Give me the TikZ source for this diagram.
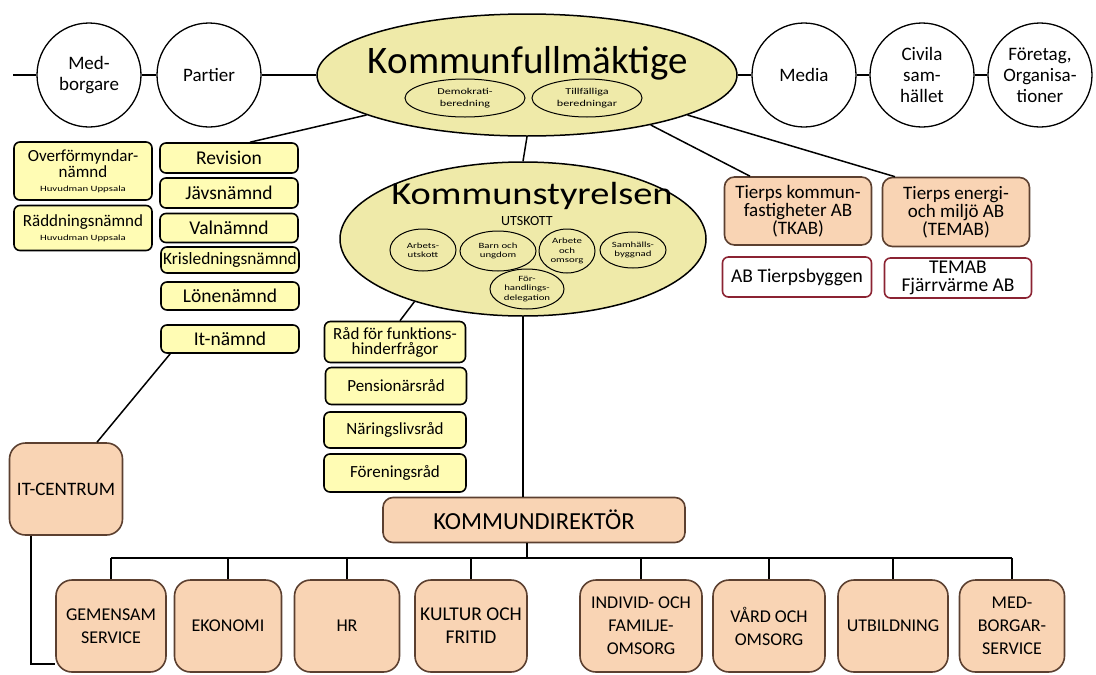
\documentclass[tikz,border=0pt]{standalone}
\usepackage{fontspec}
\setmainfont{Carlito}
\newfontfamily\widefont[FakeStretch=1.35]{Carlito}
\newfontfamily\ksfont[FakeStretch=1.2]{Carlito}
\usetikzlibrary{shapes.geometric,calc}
\definecolor{ovalfill}{HTML}{EFEAA9}
\definecolor{boxyellow}{HTML}{FFFCB4}
\definecolor{peach}{HTML}{F9D4B4}
\definecolor{peachline}{HTML}{5C4030}
\definecolor{abline}{HTML}{8B2332}

\begin{document}
\begin{tikzpicture}[x=1pt,y=-1pt,
    party/.style={circle,draw,line width=1.3pt,fill=white,minimum size=104pt,inner sep=0pt,align=center,font=\fontsize{19}{21}\selectfont},
    bigoval/.style={ellipse,draw,line width=1.5pt,fill=ovalfill,inner sep=0pt},
    smalloval/.style={ellipse,draw,line width=1pt,fill=ovalfill,inner sep=0pt,align=center,font=\widefont\fontsize{8}{9.5}\selectfont},
    yellowbox/.style={rectangle,rounded corners=6pt,draw,line width=1.6pt,fill=boxyellow,minimum width=138pt,inner sep=0pt,align=center,font=\fontsize{19.5}{16}\selectfont},
    peachbox/.style={rectangle,rounded corners=10pt,draw=peachline,line width=1.6pt,fill=peach,inner sep=0pt,align=center,font=\fontsize{19}{18}\selectfont},
    abbox/.style={rectangle,rounded corners=6pt,draw=abline,line width=1.6pt,fill=white,minimum height=40pt,inner sep=0pt,align=center,font=\fontsize{19.5}{18}\selectfont},
    unit/.style={peachbox,minimum width=110pt,minimum height=92pt,rounded corners=16pt,font=\fontsize{18}{23}\selectfont},
    link/.style={line width=1.5pt}]
\useasboundingbox (0,0) rectangle (1096,675);

\node[party] (med) at (89,75) {Med-\\borgare};
\node[party] (par) at (209,75) {Partier};
\node[party] (media) at (804,75) {Media};
\node[party] (civ) at (922,75) {Civila\\sam-\\hället};
\node[party] (ftg) at (1040,75) {Företag,\\Organisa-\\tioner};
\node[bigoval,minimum width=420pt,minimum height=122pt] (kf) at (527,75) {};
\node[anchor=base,font=\fontsize{39}{39}\selectfont] (kftitle) at (528,73) {Kommunfullmäktige};
\node[smalloval,minimum width=120pt,minimum height=38pt,font=\widefont\fontsize{9}{12}\selectfont] (demo) at (465,98) {Demokrati-\\beredning};
\node[smalloval,minimum width=110pt,minimum height=38pt,font=\widefont\fontsize{9}{12}\selectfont] (tillf) at (587,98) {Tillfälliga\\beredningar};
\coordinate (lstart) at (13,75);
\draw[link] (lstart) -- (med) -- (par) -- (kf) -- (media) -- (civ) -- (ftg);

\node[bigoval,minimum width=366pt,minimum height=154pt] (ks) at (523,239) {};
\node[anchor=base,font=\ksfont\fontsize{32}{32}\selectfont] (kstitle) at (532,204) {Kommunstyrelsen};
\node[anchor=base,font=\fontsize{14}{14}\selectfont] (utsk) at (527,225) {UTSKOTT};
\node[smalloval,minimum width=66pt,minimum height=42pt] (arb) at (423,250) {Arbets-\\utskott};
\node[smalloval,minimum width=76pt,minimum height=40pt] (barn) at (498,251) {Barn och\\ungdom};
\node[smalloval,minimum width=56pt,minimum height=44pt] (oms) at (567,251) {Arbete\\och\\omsorg};
\node[smalloval,minimum width=66pt,minimum height=36pt] (samh) at (633,250) {Samhälls-\\byggnad};
\node[smalloval,minimum width=74pt,minimum height=40pt] (forh) at (527,289) {För-\\handlings-\\delegation};

\node[yellowbox,minimum height=58pt,font=\fontsize{17}{14}\selectfont] (overf) at (83,171) {Overförmyndar-\\nämnd\\{\widefont\fontsize{8}{9}\selectfont Huvudman Uppsala}};
\node[yellowbox,minimum height=45pt,font=\fontsize{17}{14}\selectfont] (radd) at (83,228) {Räddningsnämnd\\{\widefont\fontsize{8}{9}\selectfont Huvudman Uppsala}};
\node[yellowbox,minimum height=30pt] (rev) at (229,158) {Revision};
\node[yellowbox,minimum height=30pt] (jav) at (229,193) {Jävsnämnd};
\node[yellowbox,minimum height=29pt] (val) at (229,228) {Valnämnd};
\node[yellowbox,minimum height=26pt,font=\fontsize{17.3}{16}\selectfont] (kris) at (230,260) {Krisledningsnämnd};
\node[yellowbox,minimum height=28pt] (lon) at (230,296) {Lönenämnd};
\node[yellowbox,minimum height=28pt] (itn) at (230,339) {It-nämnd};

\node[yellowbox,minimum width=141pt,minimum height=41pt,font=\fontsize{17}{15}\selectfont] (raad) at (395,342) {Råd för funktions-\\hinderfrågor};
\node[yellowbox,minimum width=141pt,minimum height=37pt,font=\fontsize{17}{15}\selectfont] (pens) at (396,386) {Pensionärsråd};
\node[yellowbox,minimum width=142pt,minimum height=36pt,font=\fontsize{17}{15}\selectfont] (nar) at (395,430) {Näringslivsråd};
\node[yellowbox,minimum width=142pt,minimum height=38pt,font=\fontsize{17}{15}\selectfont] (fore) at (395,473) {Föreningsråd};

\node[peachbox,minimum width=147pt,minimum height=68pt] (tkab) at (798,211) {Tierps kommun-\\fastigheter AB\\(TKAB)};
\node[peachbox,minimum width=147pt,minimum height=69pt] (temab) at (956,212) {Tierps energi-\\och miljö AB\\(TEMAB)};
\node[abbox,minimum width=149pt] (abt) at (797,277) {AB Tierpsbyggen};
\node[abbox,minimum width=147pt] (temfj) at (958,278) {TEMAB\\Fjärrvärme AB};

\node[peachbox,minimum width=302pt,minimum height=45pt,font=\fontsize{24.5}{24}\selectfont] (kd) at (534,520) {KOMMUNDIREKTÖR};
\node[peachbox,minimum width=113pt,minimum height=92pt,rounded corners=16pt,font=\fontsize{19}{20}\selectfont] (itc) at (66,489) {IT-CENTRUM};

\node[unit] (gem) at (111,626) {GEMENSAM\\SERVICE};
\node[unit,minimum width=107pt] (eko) at (228,626) {EKONOMI};
\node[unit,minimum width=105pt] (hr) at (347,626) {HR};
\node[unit,minimum width=112pt,font=\fontsize{19.5}{23}\selectfont] (kul) at (471,626) {KULTUR OCH\\FRITID};
\node[unit,minimum width=122pt] (ind) at (641,626) {INDIVID- OCH\\FAMILJE-\\OMSORG};
\node[unit,minimum width=112pt] (vard) at (769,626) {VÅRD OCH\\OMSORG};
\node[unit] (utb) at (893,626) {UTBILDNING};
\node[unit,minimum width=105pt] (mbs) at (1012,626) {MED-\\BORGAR-\\SERVICE};

\draw[link] (kf.194) -- ($(rev.north)+(21,0)$);
\draw[link] (kf.south) -- (ks.north);
\draw[link] (kf.338) -- ($(tkab.north)+(-48,0)$);
\draw[link] (kf.346) -- ($(temab.north)+(-61,0)$);
\draw[link] (ks.210) -- ($(raad.north)+(5,0)$);
\draw[link] (ks.south) -- (ks.south |- kd.north);
\draw[link] ($(itn.south west)+(10,0)$) -- ($(itc.north)+(31,0)$);
\draw[link] ($(itc.south)+(-35,0)$) |- ($(gem.south west)+(0,-9)$);
\coordinate (bus) at (527,558);
\draw[link] (bus |- kd.south) -- (bus);
\draw[link] (gem.north |- bus) -- (mbs.north |- bus);
\foreach \u in {gem,eko,hr,kul,ind,vard,utb,mbs}
  \draw[link] (\u.north) -- (\u.north |- bus);
\end{tikzpicture}
\end{document}
